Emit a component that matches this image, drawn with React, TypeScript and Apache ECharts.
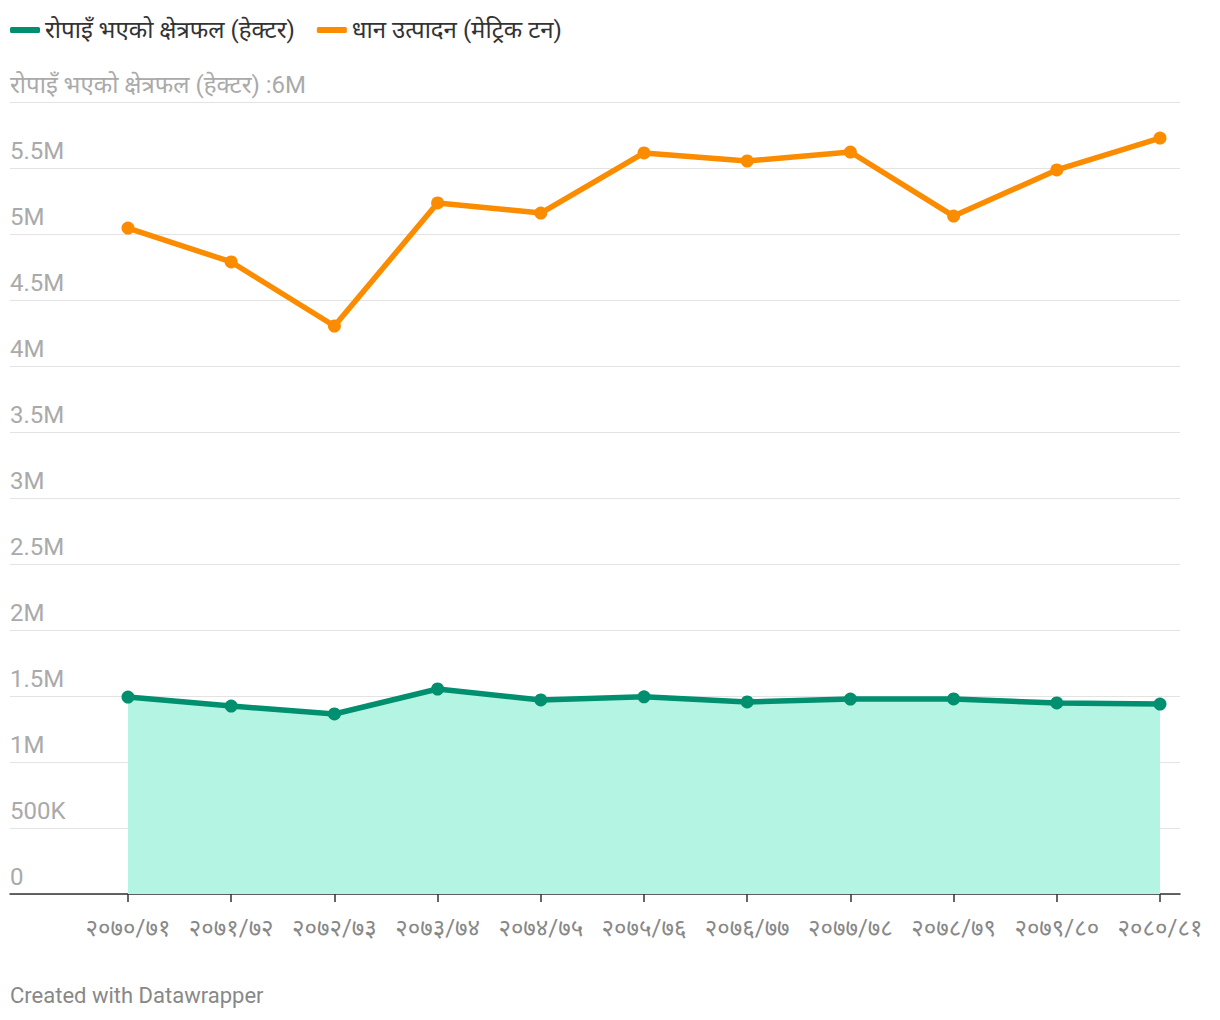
import React, { useEffect, useRef } from "react";
import * as echarts from "echarts";

const categories = [
  "२०७०/७१", "२०७१/७२", "२०७२/७३", "२०७३/७४", "२०७४/७५", "२०७५/७६",
  "२०७६/७७", "२०७७/७८", "२०७८/७९", "२०७९/८०", "२०८०/८१",
];
const areaName = "रोपाइँ भएको क्षेत्रफल (हेक्टर)";
const prodName = "धान उत्पादन (मेट्रिक टन)";
const areaValues = [1492000, 1424000, 1364000, 1553000, 1470000, 1494000, 1455000, 1477000, 1478000, 1447000, 1439000];
const prodValues = [5045000, 4788000, 4303000, 5235000, 5159000, 5614000, 5553000, 5621000, 5136000, 5485000, 5727000];
const yTicks = [0, 500000, 1000000, 1500000, 2000000, 2500000, 3000000, 3500000, 4000000, 4500000, 5000000, 5500000, 6000000];

const FONT = "Roboto, 'Noto Sans', sans-serif";

function fmt(v: number): string {
  if (v === 6000000) return areaName + " :6M";
  if (v === 0) return "0";
  if (v >= 1000000) return v / 1000000 + "M";
  return v / 1000 + "K";
}

export default function App() {
  const ref = useRef<HTMLDivElement>(null);
  useEffect(() => {
    document.body.style.margin = "0";
    const chart = echarts.init(ref.current!, null, { renderer: "svg" });
    chart.setOption({
      animation: false,
      backgroundColor: "#ffffff",
      textStyle: { fontFamily: FONT },
      legend: {
        left: 10,
        top: 18,
        padding: 0,
        itemWidth: 30,
        itemHeight: 6,
        itemGap: 22,
        icon: "roundRect",
        textStyle: { fontSize: 24, color: "#333333", fontFamily: FONT },
        data: [areaName, prodName],
      },
      graphic: [
        {
          type: "text",
          left: 10,
          top: 984,
          style: { text: "Created with Datawrapper", fontSize: 22, fill: "#888888", fontFamily: FONT },
        },
      ],
      grid: [
        { left: 10, right: 40, top: 102, bottom: 126 },
        { left: 128, right: 60, top: 102, bottom: 126 },
      ],
      xAxis: [
        {
          type: "value",
          gridIndex: 0,
          min: 0,
          max: 1,
          axisLine: { show: true, onZero: false, lineStyle: { color: "#333333", width: 1.5 } },
          axisTick: { show: false },
          axisLabel: { show: false },
          splitLine: { show: false },
        },
        {
          type: "category",
          gridIndex: 1,
          data: categories,
          boundaryGap: false,
          axisLine: { show: false },
          axisTick: { show: true, interval: 0, alignWithLabel: true, length: 8, lineStyle: { color: "#333333", width: 1.5 } },
          axisLabel: { interval: 0, color: "#888888", fontSize: 24, margin: 22, fontFamily: FONT },
          splitLine: { show: false },
        },
      ],
      yAxis: [
        {
          type: "value",
          gridIndex: 0,
          min: 0,
          max: 6000000,
          interval: 500000,
          axisLine: { show: false },
          axisTick: { show: false },
          axisLabel: {
            inside: true,
            margin: 0,
            verticalAlign: "bottom",
            padding: [0, 0, 5, 0],
            color: "#aaaaaa",
            fontSize: 24,
            fontFamily: FONT,
            formatter: (v: number) => (yTicks.includes(v) ? fmt(v) : ""),
          },
          splitLine: { show: true, lineStyle: { color: "#e3e3e3", width: 1 } },
        },
        {
          type: "value",
          gridIndex: 1,
          min: 0,
          max: 6000000,
          show: false,
          splitLine: { show: false },
        },
      ],
      series: [
        {
          name: areaName,
          type: "line",
          xAxisIndex: 1,
          yAxisIndex: 1,
          data: areaValues,
          color: "#00906f",
          lineStyle: { width: 5.5, color: "#00906f" },
          symbol: "circle",
          symbolSize: 13,
          itemStyle: { color: "#00906f" },
          areaStyle: { color: "#b3f4e3", opacity: 1 },
          z: 3,
        },
        {
          name: prodName,
          type: "line",
          xAxisIndex: 1,
          yAxisIndex: 1,
          data: prodValues,
          color: "#fb8c00",
          lineStyle: { width: 5.5, color: "#fb8c00" },
          symbol: "circle",
          symbolSize: 13,
          itemStyle: { color: "#fb8c00" },
          z: 3,
        },
      ],
    });
    return () => chart.dispose();
  }, []);
  return <div ref={ref} style={{ width: 1220, height: 1020 }} />;
}
